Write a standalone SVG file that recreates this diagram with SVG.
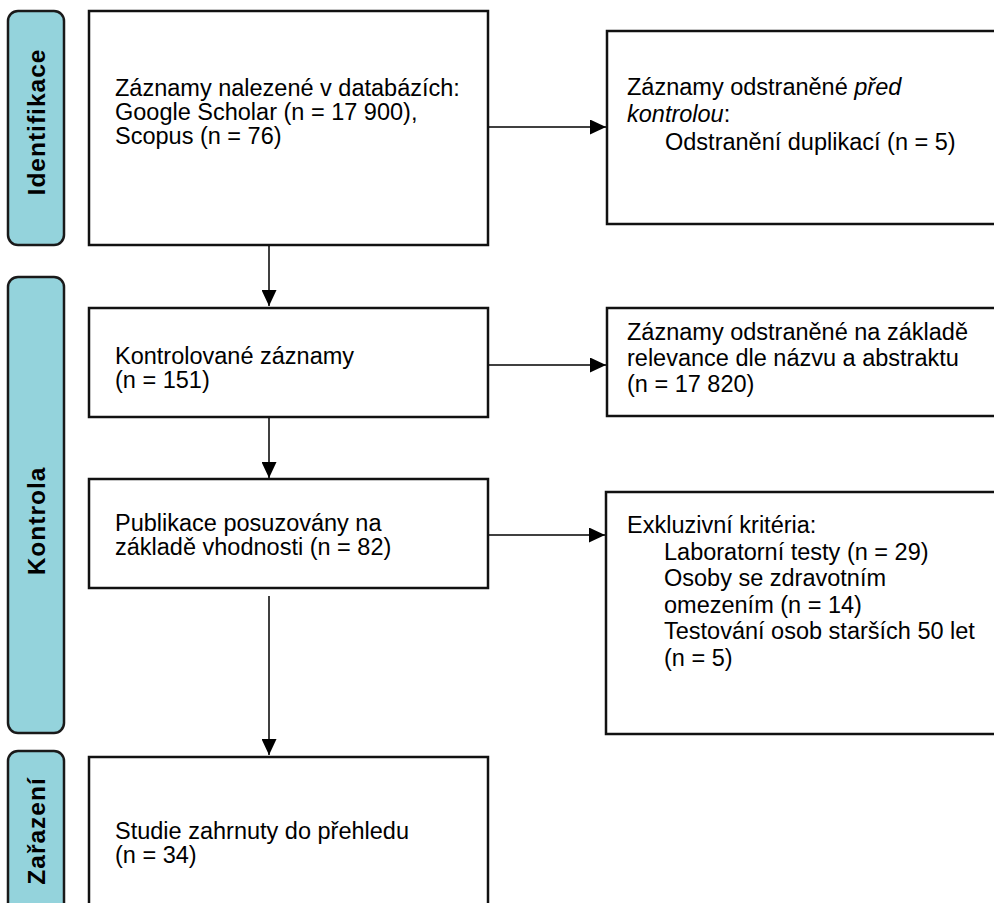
<svg xmlns="http://www.w3.org/2000/svg" width="994" height="903" viewBox="0 0 994 903">
<defs>
<marker id="ah" markerWidth="16" markerHeight="15" refX="16" refY="7.5" orient="auto" markerUnits="userSpaceOnUse" viewBox="0 0 16 15">
<path d="M0,0 L16,7.5 L0,15 Z" fill="#000"/>
</marker>
<style>
.tab{fill:#94d3dc;stroke:#1a1a1a;stroke-width:2.5}
.box{fill:#fff;stroke:#111;stroke-width:2.5}
.tt{font-family:"Liberation Sans",Arial,sans-serif;font-weight:bold;font-size:24.5px;letter-spacing:1px;fill:#000;text-anchor:middle}
.t{font-family:"Liberation Sans",Arial,sans-serif;font-size:23.5px;fill:#000}
.c{stroke:#000;stroke-width:1.5;fill:none}
</style>
</defs>
<rect width="994" height="903" fill="#fff"/>
<g id="tab-identifikace">
<rect class="tab" x="8" y="11" width="56" height="234" rx="10"/>
<text class="tt" transform="translate(45,122) rotate(-90)">Identifikace</text>
</g>
<g id="tab-kontrola">
<rect class="tab" x="8" y="277" width="56" height="456" rx="10"/>
<text class="tt" transform="translate(45,521) rotate(-90)">Kontrola</text>
</g>
<g id="tab-zarazeni">
<rect class="tab" x="8" y="751" width="56" height="180" rx="10"/>
<text class="tt" transform="translate(45,831) rotate(-90)">Zařazení</text>
</g>
<g id="box-identified">
<rect class="box" x="89" y="11" width="399" height="234"/>
<text class="t"><tspan x="115" y="96">Záznamy nalezené v databázích:</tspan><tspan x="115" y="120">Google Scholar (n = 17 900),</tspan><tspan x="115" y="144">Scopus (n = 76)</tspan></text>
</g>
<g id="box-removed-before">
<rect class="box" x="607" y="31" width="400" height="193"/>
<text class="t"><tspan x="627" y="95">Záznamy odstraněné <tspan font-style="italic">před</tspan></tspan><tspan x="627" y="122"><tspan font-style="italic">kontrolou</tspan>:</tspan><tspan x="665" y="150">Odstranění duplikací (n = 5)</tspan></text>
</g>
<g id="box-screened">
<rect class="box" x="89" y="308" width="399" height="109"/>
<text class="t"><tspan x="115" y="364">Kontrolované záznamy</tspan><tspan x="115" y="388">(n = 151)</tspan></text>
</g>
<g id="box-excluded-relevance">
<rect class="box" x="607" y="308" width="400" height="108"/>
<text class="t"><tspan x="627" y="340">Záznamy odstraněné na základě</tspan><tspan x="627" y="366">relevance dle názvu a abstraktu</tspan><tspan x="627" y="392">(n = 17 820)</tspan></text>
</g>
<g id="box-eligibility">
<rect class="box" x="89" y="479" width="399" height="109"/>
<text class="t"><tspan x="115" y="531">Publikace posuzovány na</tspan><tspan x="115" y="555">základě vhodnosti (n = 82)</tspan></text>
</g>
<g id="box-excluded-criteria">
<rect class="box" x="606" y="492" width="400" height="242"/>
<text class="t"><tspan x="627" y="533">Exkluzivní kritéria:</tspan><tspan x="664" y="559.5">Laboratorní testy (n = 29)</tspan><tspan x="664" y="586">Osoby se zdravotním</tspan><tspan x="664" y="612.5">omezením (n = 14)</tspan><tspan x="664" y="639">Testování osob starších 50 let</tspan><tspan x="664" y="665.5">(n = 5)</tspan></text>
</g>
<g id="box-included">
<rect class="box" x="89" y="757" width="399" height="180"/>
<text class="t"><tspan x="115" y="839">Studie zahrnuty do přehledu</tspan><tspan x="115" y="863">(n = 34)</tspan></text>
</g>
<g id="connectors">
<line class="c" x1="269" y1="246" x2="269" y2="306" marker-end="url(#ah)"/>
<line class="c" x1="269" y1="418" x2="269" y2="478" marker-end="url(#ah)"/>
<line class="c" x1="269" y1="596" x2="269" y2="755" marker-end="url(#ah)"/>
<line class="c" x1="489" y1="127" x2="606" y2="127" marker-end="url(#ah)"/>
<line class="c" x1="489" y1="365" x2="606" y2="365" marker-end="url(#ah)"/>
<line class="c" x1="489" y1="535" x2="605" y2="535" marker-end="url(#ah)"/>
</g>
</svg>
